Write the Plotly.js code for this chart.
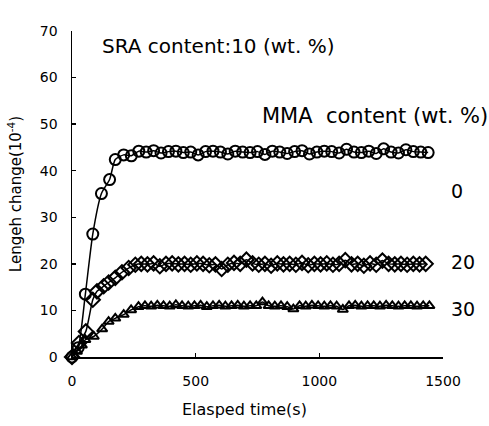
<!DOCTYPE html>
<html>
<head>
<meta charset="utf-8">
<script src="https://cdn.plot.ly/plotly-3.0.1.min.js"></script>
<style>html,body{margin:0;padding:0;background:#fff;}#chart{width:489px;height:426px;}</style>
</head>
<body>
<div id="chart"></div>
<script>
// MMA 0 wt.% (circles)
var t0 = [0, 25, 54, 84, 119, 152, 175, 209, 240, 270, 300, 330, 360, 390, 420, 450, 480, 510, 540, 570, 600, 630, 660, 690, 720, 750, 780, 810, 840, 870, 900, 930, 960, 990, 1020, 1050, 1080, 1110, 1140, 1170, 1200, 1230, 1260, 1290, 1320, 1350, 1380, 1410, 1440];
var y0 = [0, 2, 13.5, 26.4, 35.1, 38.1, 42.4, 43.4, 43.2, 44.2, 44.0, 44.3, 43.8, 44.1, 44.2, 43.9, 44.0, 43.4, 44.1, 44.2, 44.0, 43.6, 44.2, 44.0, 43.9, 44.1, 43.5, 44.2, 44.0, 43.7, 44.1, 44.3, 43.6, 44.0, 44.2, 44.1, 43.8, 44.6, 44.0, 43.9, 44.2, 43.7, 44.7, 44.0, 43.8, 44.5, 44.1, 44.0, 43.9];
// MMA 20 wt.% (diamonds)
var t20 = [0, 28, 56, 84, 101, 128, 148, 175, 202, 229, 256, 280, 305, 330, 355, 380, 405, 430, 455, 480, 505, 530, 555, 580, 605, 630, 655, 680, 705, 730, 755, 780, 805, 830, 855, 880, 905, 930, 955, 980, 1005, 1030, 1055, 1080, 1105, 1130, 1155, 1180, 1205, 1230, 1255, 1280, 1305, 1330, 1355, 1380, 1405, 1430];
var y20 = [0, 3, 5.5, 12.3, 14.1, 15.2, 16.0, 17.0, 18.2, 19.1, 19.8, 20.0, 19.9, 20.1, 19.5, 20.0, 20.1, 19.9, 20.0, 19.8, 20.1, 20.0, 19.7, 19.9, 18.9, 19.8, 20.2, 20.0, 20.9, 20.1, 19.8, 20.0, 19.6, 20.1, 19.9, 20.0, 19.8, 20.2, 19.7, 20.0, 19.9, 20.1, 19.8, 20.0, 20.8, 19.9, 20.0, 19.6, 20.1, 19.8, 20.7, 20.0, 19.9, 20.0, 19.8, 20.0, 19.9, 20.0];
// MMA 30 wt.% (triangles)
var t30 = [0, 20, 40, 54, 88, 122, 148, 175, 209, 239, 269, 295, 320, 345, 370, 395, 420, 445, 470, 495, 520, 545, 570, 595, 620, 645, 670, 695, 720, 745, 770, 795, 820, 845, 870, 895, 920, 945, 970, 995, 1020, 1045, 1070, 1095, 1120, 1145, 1170, 1195, 1220, 1245, 1270, 1295, 1320, 1345, 1370, 1395, 1420, 1445];
var y30 = [0, 1.2, 2.5, 3.7, 4.4, 6.0, 7.6, 8.3, 9.1, 10.1, 10.8, 11.0, 10.9, 11.1, 11.0, 10.9, 11.2, 11.0, 10.9, 11.0, 11.1, 10.8, 11.0, 11.1, 10.9, 11.0, 11.1, 10.9, 11.0, 11.0, 11.8, 11.0, 10.9, 11.0, 10.8, 10.3, 11.0, 10.9, 11.1, 11.0, 10.9, 11.0, 10.9, 10.2, 11.0, 11.1, 10.9, 11.0, 11.0, 10.9, 11.1, 11.0, 10.9, 11.0, 11.0, 10.9, 11.0, 11.0];

var seriesLabels = ['0', '20', '30'];
var xTicks = [0, 500, 1000, 1500];
var yTicks = [0, 10, 20, 30, 40, 50, 60, 70];

var black = '#000';
function tr(x, y, sym, size) {
  return {
    x: x, y: y, type: 'scatter', mode: 'lines+markers',
    line: {color: black, width: 1.5, shape: 'spline', smoothing: 0.6},
    marker: {symbol: sym, size: size, color: black, line: {color: black, width: 2}},
    cliponaxis: false, showlegend: false, hoverinfo: 'skip'
  };
}
var data = [
  tr(t30, y30, 'triangle-up-open', 9),
  tr(t20, y20, 'diamond-open', 11),
  tr(t0, y0, 'circle-open', 11)
];
var F = 'DejaVu Sans, Liberation Sans, Arial, sans-serif';
var layout = {
  width: 489, height: 426,
  margin: {l: 72, r: 46, t: 31, b: 69},
  paper_bgcolor: '#fff', plot_bgcolor: '#fff',
  font: {family: F, color: black},
  xaxis: {
    range: [0, 1500], tickvals: xTicks, ticktext: xTicks.map(String),
    showgrid: false, zeroline: false, showline: true, linecolor: black, linewidth: 1.5,
    ticks: 'inside', ticklen: 4, tickwidth: 1.5, tickcolor: black, ticklabelstandoff: 11,
    tickfont: {size: 14, family: F}, fixedrange: true
  },
  yaxis: {
    range: [0, 70], tickvals: yTicks, ticktext: yTicks.map(String),
    showgrid: false, zeroline: false, showline: true, linecolor: black, linewidth: 1.5,
    ticks: 'inside', ticklen: 4, tickwidth: 1.5, tickcolor: black, ticklabelstandoff: 10,
    tickfont: {size: 14, family: F}, fixedrange: true,
    title: {text: 'Lengeh change(10<sup>-4</sup>)', font: {size: 15, family: F}, standoff: 14}
  },
  annotations: [
    {xref: 'paper', yref: 'paper', x: 0.466, y: -0.16, xanchor: 'center', yanchor: 'middle', showarrow: false,
     text: 'Elasped time(s)', font: {size: 16, family: F}},
    {xref: 'paper', yref: 'paper', x: 0.075, y: 0.955, xanchor: 'left', yanchor: 'middle', showarrow: false,
     text: 'SRA content:10 (wt. %)', font: {size: 20, family: F}},
    {xref: 'paper', yref: 'paper', x: 1.127, y: 0.738, xanchor: 'right', yanchor: 'middle', showarrow: false,
     text: 'MMA  content (wt. %)', font: {size: 21, family: F}},
    {xref: 'paper', yref: 'paper', x: 1.015, y: 0.51, xanchor: 'left', yanchor: 'middle', showarrow: false,
     text: seriesLabels[0], font: {size: 19, family: F}},
    {xref: 'paper', yref: 'paper', x: 1.015, y: 0.29, xanchor: 'left', yanchor: 'middle', showarrow: false,
     text: seriesLabels[1], font: {size: 19, family: F}},
    {xref: 'paper', yref: 'paper', x: 1.015, y: 0.148, xanchor: 'left', yanchor: 'middle', showarrow: false,
     text: seriesLabels[2], font: {size: 19, family: F}}
  ]
};
Plotly.newPlot('chart', data, layout, {displayModeBar: false, staticPlot: true});
</script>
</body>
</html>
